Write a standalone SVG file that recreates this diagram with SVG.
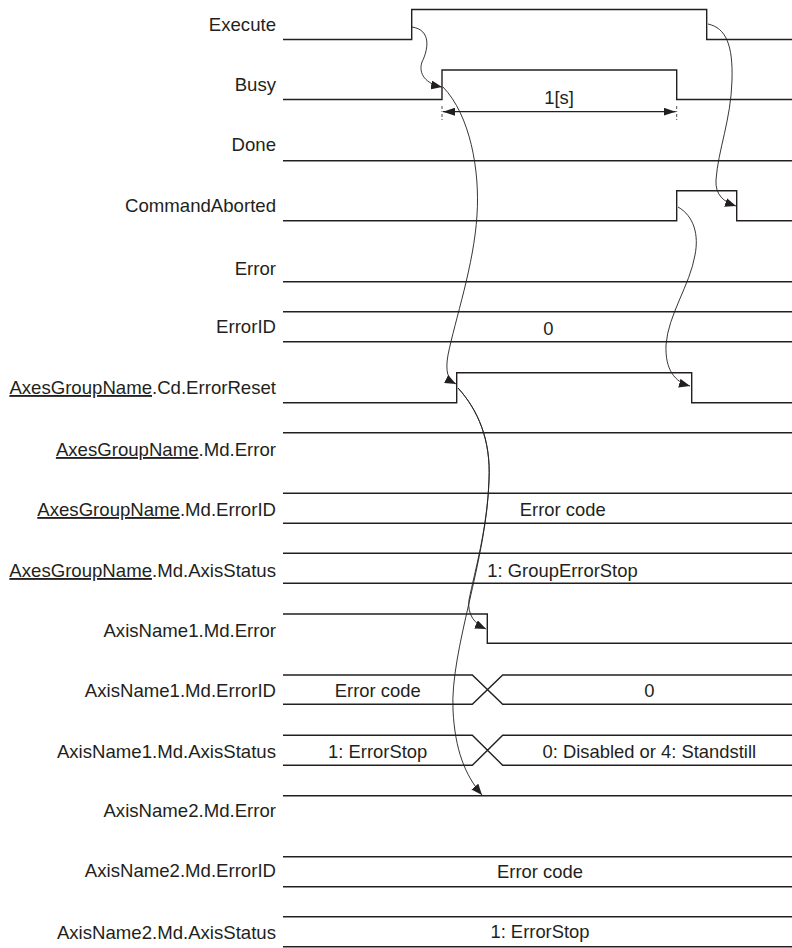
<svg xmlns="http://www.w3.org/2000/svg" width="792" height="948" viewBox="0 0 792 948">
<style>
.lbl{font-family:"Liberation Sans",Arial,sans-serif;font-size:18.6px;fill:#231f20;text-anchor:end}
.val{font-family:"Liberation Sans",Arial,sans-serif;font-size:18.4px;fill:#231f20;text-anchor:middle}
.sig{fill:none;stroke:#231f20;stroke-width:1.4}
.arr{fill:none;stroke:#231f20;stroke-width:0.9;marker-end:url(#ah)}
.u{text-decoration:underline}
</style>
<defs>
<marker id="ah" viewBox="0 0 11 9" refX="11" refY="4.5" markerWidth="11" markerHeight="9" markerUnits="userSpaceOnUse" orient="auto">
<path d="M0,0 L11,4.5 L0,9 Z" fill="#231f20"/>
</marker>
<marker id="dh" viewBox="0 0 12 8" refX="12" refY="4" markerWidth="12" markerHeight="8" markerUnits="userSpaceOnUse" orient="auto-start-reverse">
<path d="M0,0 L12,4 L0,8 Z" fill="#231f20"/>
</marker>
</defs>
<rect width="792" height="948" fill="#fff"/>

<g id="execute"><text class="lbl" x="276" y="31">Execute</text>
<path class="sig" d="M283,39.5 H411.7 V9.5 H706.7 V39.5 H792"/></g>
<g id="busy"><text class="lbl" x="276" y="91">Busy</text>
<path class="sig" d="M283,99.5 H442 V70 H676.7 V99.5 H792"/>
<text class="val" x="559" y="104">1[s]</text>
<path d="M442,106 V122 M676.7,106 V122" stroke="#231f20" stroke-width="0.8" stroke-dasharray="3,2,1,2"/>
<path d="M443,111.7 H675.7" stroke="#231f20" stroke-width="1.2" marker-start="url(#dh)" marker-end="url(#dh)"/></g>
<g id="done"><text class="lbl" x="276" y="151">Done</text>
<path class="sig" d="M283,160.7 H792"/></g>
<g id="commandaborted"><text class="lbl" x="276" y="212">CommandAborted</text>
<path class="sig" d="M283,220.7 H676.7 V190.7 H736.7 V220.7 H792"/></g>
<g id="error"><text class="lbl" x="276" y="275">Error</text>
<path class="sig" d="M283,281.7 H792"/></g>
<g id="errorid"><text class="lbl" x="276" y="333">ErrorID</text>
<path class="sig" d="M283,311.7 H792 M283,341.7 H792"/>
<text class="val" x="548.3" y="335">0</text></g>
<g id="cd-errorreset"><text class="lbl" x="276" y="394"><tspan class="u">AxesGroupName</tspan>.Cd.ErrorReset</text>
<path class="sig" d="M283,402.7 H456.7 V372.7 H691.7 V402.7 H792"/></g>
<g id="md-error"><text class="lbl" x="276" y="456"><tspan class="u">AxesGroupName</tspan>.Md.Error</text>
<path class="sig" d="M283,432.7 H792"/></g>
<g id="md-errorid"><text class="lbl" x="276" y="516"><tspan class="u">AxesGroupName</tspan>.Md.ErrorID</text>
<path class="sig" d="M283,493.3 H792 M283,523.3 H792"/>
<text class="val" x="562.7" y="516">Error code</text></g>
<g id="md-axisstatus"><text class="lbl" x="276" y="577"><tspan class="u">AxesGroupName</tspan>.Md.AxisStatus</text>
<path class="sig" d="M283,553.3 H792 M283,583.3 H792"/>
<text class="val" x="562.5" y="577.3">1: GroupErrorStop</text></g>
<g id="ax1-error"><text class="lbl" x="276" y="637">AxisName1.Md.Error</text>
<path class="sig" d="M283,614 H487.3 V643.3 H792"/></g>
<g id="ax1-errorid"><text class="lbl" x="276" y="697">AxisName1.Md.ErrorID</text>
<path class="sig" d="M283,675 H472.3 L502.7,704.3 H792 M283,704.3 H472.3 L502.7,675 H792"/>
<text class="val" x="377.7" y="696.7">Error code</text>
<text class="val" x="649.3" y="696.7">0</text></g>
<g id="ax1-axisstatus"><text class="lbl" x="276" y="758">AxisName1.Md.AxisStatus</text>
<path class="sig" d="M283,735.3 H472.3 L502.7,765.3 H792 M283,765.3 H472.3 L502.7,735.3 H792"/>
<text class="val" x="377.7" y="758.3">1: ErrorStop</text>
<text class="val" x="649.3" y="758.3">0: Disabled or 4: Standstill</text></g>
<g id="ax2-error"><text class="lbl" x="276" y="817">AxisName2.Md.Error</text>
<path class="sig" d="M283,795.7 H792"/></g>
<g id="ax2-errorid"><text class="lbl" x="276" y="877">AxisName2.Md.ErrorID</text>
<path class="sig" d="M283,856.7 H792 M283,886.7 H792"/>
<text class="val" x="540" y="878.4">Error code</text></g>
<g id="ax2-axisstatus"><text class="lbl" x="276" y="939">AxisName2.Md.AxisStatus</text>
<path class="sig" d="M283,916.7 H792 M283,946.7 H792"/>
<text class="val" x="540" y="938.4">1: ErrorStop</text></g>

<g id="connectors">
<path class="arr" d="M412,27 C432,30 428,50 422,62 C418,74 426,84 442,87"/>
<path class="arr" d="M708,24 C726,28 733,45 732,80 C731,120 718,150 716,180 C715,195 724,202 736,206"/>
<path class="arr" d="M443,87 C470,115 480,170 477,215 C474,265 455,320 448,355 C445,372 448,380 456,384"/>
<path class="arr" d="M678,207 C694,216 699,235 695,255 C690,285 668,315 666,345 C665,370 675,382 690,386"/>
<path class="arr" d="M458,388 C478,410 491,440 489,480 C487,530 475,570 469,600 C467,615 475,624 486,629"/>
<path class="arr" d="M458,388 C478,410 491,440 489,480 C487,560 450,650 453,710 C455,750 465,775 482,795"/>
</g>
</svg>
